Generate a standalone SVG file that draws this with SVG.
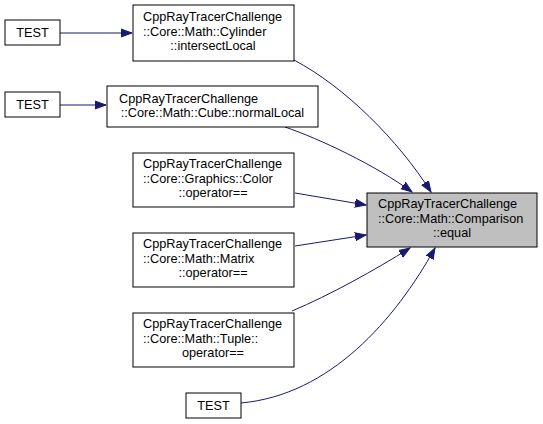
<svg xmlns="http://www.w3.org/2000/svg" width="543" height="424" viewBox="0 0 543 424">
<defs>
<style>
.n rect{fill:#fff;stroke:#000;stroke-width:1}
.n.h rect{fill:#bfbfbf}
.n text{font-family:"Liberation Sans",Arial,sans-serif;font-size:12.7px;fill:#000}
.m{text-anchor:middle}
.e path{fill:none;stroke:#191970;stroke-width:1;marker-end:url(#ah)}
</style>
<marker id="ah" markerUnits="userSpaceOnUse" markerWidth="12" markerHeight="10" viewBox="0 -5 12 10" refX="11" refY="0" orient="auto">
<path d="M0,-4 L11,0 L0,4 Z" fill="#191970" stroke="#191970" stroke-width="1"/>
</marker>
</defs>
<rect width="543" height="424" fill="#fff"/>
<g class="e" id="edges">
<path d="M60,33 L132,33"/>
<path d="M60,105 L106,105"/>
<path d="M294,60 C345,87 398,140 431,192"/>
<path d="M285,127 C320,139 375,165 412,192"/>
<path d="M295,193 L366,205"/>
<path d="M295,246 L366,235"/>
<path d="M292,311 C330,295 375,270 410,248"/>
<path d="M241,403 C330,395 395,320 435,248"/>
</g>
<g class="n" id="test1"><rect x="5" y="20" width="55" height="25"/><text class="m" x="32.5" y="37">TEST</text></g>
<g class="n" id="cylinder"><rect x="133" y="5" width="161" height="56"/><text x="143" y="21">CppRayTracerChallenge</text><text x="143" y="35.5">::Core::Math::Cylinder</text><text class="m" x="213" y="50">::intersectLocal</text></g>
<g class="n" id="test2"><rect x="5" y="92" width="55" height="25"/><text class="m" x="32.5" y="109">TEST</text></g>
<g class="n" id="cube"><rect x="107" y="86" width="211" height="41"/><text x="119" y="102.5">CppRayTracerChallenge</text><text class="m" x="212.5" y="117">::Core::Math::Cube::normalLocal</text></g>
<g class="n" id="color"><rect x="133" y="153" width="161" height="54"/><text x="143" y="168">CppRayTracerChallenge</text><text x="143" y="182.5">::Core::Graphics::Color</text><text class="m" x="213" y="197">::operator==</text></g>
<g class="n h" id="comparison"><rect x="367" y="193" width="170" height="54"/><text x="378" y="208">CppRayTracerChallenge</text><text x="378" y="222.5">::Core::Math::Comparison</text><text class="m" x="452" y="237">::equal</text></g>
<g class="n" id="matrix"><rect x="133" y="233" width="161" height="54"/><text x="143" y="248">CppRayTracerChallenge</text><text x="143" y="262.5">::Core::Math::Matrix</text><text class="m" x="213" y="277">::operator==</text></g>
<g class="n" id="tuple"><rect x="133" y="313" width="161" height="54"/><text x="143" y="328">CppRayTracerChallenge</text><text x="143" y="342.5">::Core::Math::Tuple::</text><text class="m" x="213" y="357">operator==</text></g>
<g class="n" id="test3"><rect x="186" y="393" width="55" height="25"/><text class="m" x="213.5" y="410">TEST</text></g>
</svg>
